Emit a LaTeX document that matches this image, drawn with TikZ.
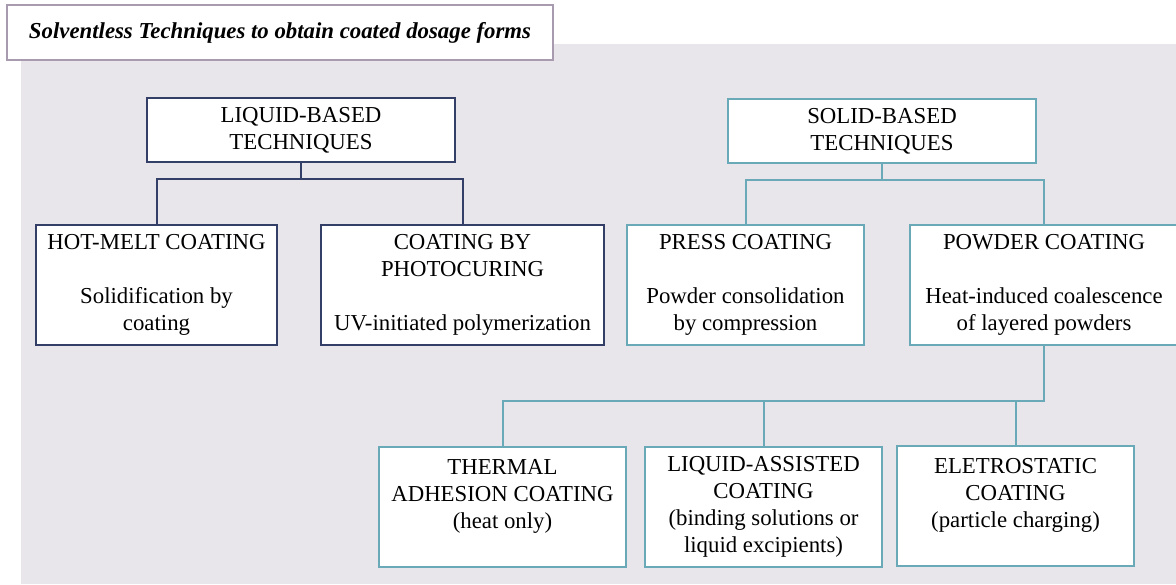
\documentclass[tikz,border=0pt]{standalone}
\usepackage{fontspec}
\setmainfont{Liberation Serif}
\usepackage{tikz}
\definecolor{panelgray}{HTML}{E8E6EA}
\definecolor{liqblue}{HTML}{333F66}
\definecolor{solteal}{HTML}{6AAAB8}
\definecolor{titleline}{HTML}{A89BB0}
\tikzset{
  techbox/.style  = {shape=rectangle, draw, fill=white, line width=1pt,
                     align=center, inner sep=0pt,
                     font=\fontsize{11.4}{13.5}\selectfont},
  liqbox/.style   = {techbox, draw=liqblue},
  solbox/.style   = {techbox, draw=solteal},
  headbox/.style  = {minimum width=154pt, minimum height=32pt},
  method/.style   = {minimum height=60pt},
  liqline/.style  = {draw=liqblue, line width=1pt},
  solline/.style  = {draw=solteal, line width=1pt}
}

\begin{document}
\begin{tikzpicture}[x=0.5pt, y=-0.5pt]
  \useasboundingbox (0,0) rectangle (1176,584);
  \clip (0,0) rectangle (1176,584);
  \fill[panelgray] (21,44) rectangle (1176,584);

  \node [draw=titleline, fill=white, line width=1pt, inner sep=0pt,
         minimum width=273pt, minimum height=27.5pt,
         font=\fontsize{11.4}{13.5}\selectfont\bfseries\itshape]
        (title) at (280,32.5) {Solventless Techniques to obtain coated dosage forms};

  \node [liqbox, headbox] (liquid) at (301,130) {LIQUID-BASED\\ TECHNIQUES};
  \node [solbox, headbox] (solid) at (882,131) {SOLID-BASED\\ TECHNIQUES};

  \node [liqbox, method, minimum width=120.5pt] (hotmelt) at (156.5,285)
        {HOT-MELT COATING\\[13.5pt] Solidification by\\ coating};
  \node [liqbox, method, minimum width=141.5pt] (photo) at (462.5,285)
        {COATING BY\\ PHOTOCURING\\[13.5pt] UV-initiated polymerization};
  \node [solbox, method, minimum width=118.5pt] (press) at (745.5,285)
        {PRESS COATING\\[13.5pt] Powder consolidation\\ by compression};
  \node [solbox, method, minimum width=134pt] (powder) at (1044,285)
        {POWDER COATING\\[13.5pt] Heat-induced coalescence\\ of layered powders};

  \node [solbox, method, minimum width=123.5pt] (thermal) at (502.5,507)
        {THERMAL\\ ADHESION COATING\\ (heat only)\\ \mbox{}};
  \node [solbox, method, minimum width=118.5pt] (liqassist) at (763.5,507)
        {LIQUID-ASSISTED\\ COATING\\ (binding solutions or\\ liquid excipients)};
  \node [solbox, method, minimum width=118.5pt] (electro) at (1015.5,506)
        {ELETROSTATIC\\ COATING\\ (particle charging)\\ \mbox{}};

  \draw [liqline] (liquid.south) -- ++(0,16) -| (hotmelt.north);
  \draw [liqline] (liquid.south) -- ++(0,16) -| (photo.north);
  \draw [solline] (solid.south) -- ++(0,16) -| (press.north);
  \draw [solline] (solid.south) -- ++(0,16) -| (powder.north);
  \draw [solline] (powder.south) -- ++(0,55) -| (thermal.north);
  \draw [solline] (powder.south) -- ++(0,55) -| (liqassist.north);
  \draw [solline] (powder.south) -- ++(0,55) -| (electro.north);
\end{tikzpicture}
\end{document}
